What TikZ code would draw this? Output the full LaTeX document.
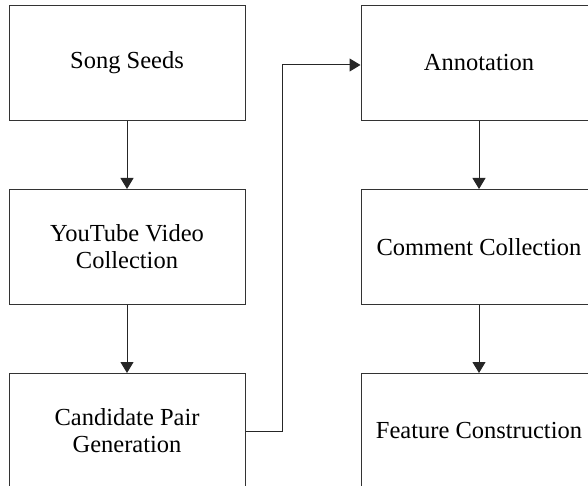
\documentclass[tikz,border=0pt]{standalone}
\usepackage{fontspec}
\setmainfont{Liberation Serif}
\usepackage{tikz}
\usetikzlibrary{arrows.meta,positioning}

\begin{document}
\begin{tikzpicture}[x=1pt,y=1pt,
    node distance=68pt,
    stepbox/.style={draw=black!80,line width=1pt,minimum width=236pt,minimum height=115pt,
      align=center,inner sep=0pt,font=\fontsize{24.5}{27}\selectfont},
    flow/.style={draw=black!85,line width=1pt,-{Triangle[length=11pt,width=13pt]}}]
    \useasboundingbox (0,0) rectangle (588,-486);
    \clip (0,0) rectangle (588,-486);

    % left column
    \node[stepbox] (seeds) at (127,-63) {Song Seeds};
    \node[stepbox,below=of seeds] (video) {YouTube Video\\Collection};
    \node[stepbox,below=of video] (pairs) {Candidate Pair\\Generation};

    % right column
    \node[stepbox] (annot) at (479,-63) {Annotation};
    \node[stepbox,below=of annot] (comments) {Comment Collection};
    \node[stepbox,below=of comments] (features) {Feature Construction};

    \draw[flow] (seeds) -- (video);
    \draw[flow] (video) -- (pairs);
    \draw[flow] (pairs.east) -- ++(37,0) |- ([yshift=-2pt]annot.west);
    \draw[flow] (annot) -- (comments);
    \draw[flow] (comments) -- (features);
\end{tikzpicture}
\end{document}
